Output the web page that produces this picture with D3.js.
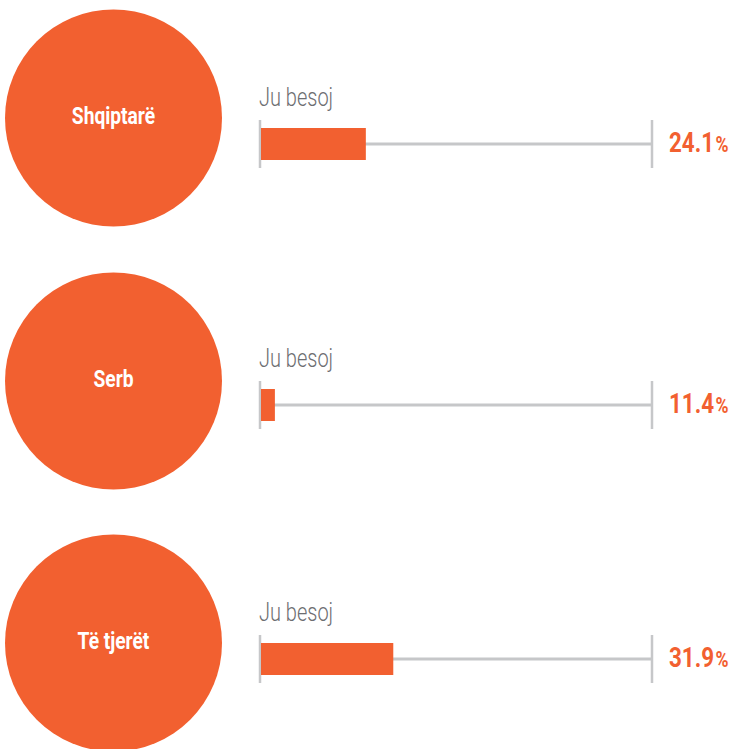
<!DOCTYPE html>
<html><head><meta charset="utf-8">
<script src="https://cdn.jsdelivr.net/npm/d3@7"></script>
<style>
html,body{margin:0;padding:0;background:#fff;}
svg{display:block;}
</style></head>
<body>
<script>
// Data
const categories = ["Shqiptarë", "Serb", "Të tjerët"];
const seriesLabel = "Ju besoj";
const values = [24.1, 11.4, 31.9];           // printed percentages
const barFill = [27.0, 3.8, 34.0];           // bar length (% of track)

const W = 734, H = 749;
const orange = "#f26030", grey = "#c6c7c9", textGrey = "#6d6e71";
const font = "Roboto, 'Liberation Sans', sans-serif";

const svg = d3.select("body").append("svg").attr("width", W).attr("height", H);

const yCircle = d3.scaleOrdinal().domain(categories).range([118, 381, 643]);
const yTrack = d3.scaleOrdinal().domain(categories).range([144, 405, 659]);
const x = d3.scaleLinear().domain([0, 100]).range([260, 652]);
const condense = 0.8; // horizontal squeeze to mimic a condensed face

// place a text at (tx,ty) squeezed horizontally; anchor 'start' or 'middle'
function squeeze(sel, tx, ty, anchor) {
  sel.each(function(d, i) {
    const t = d3.select(this);
    const w = this.getComputedTextLength() * condense;
    const X = typeof tx === "function" ? tx(d, i) : tx;
    const Y = typeof ty === "function" ? ty(d, i) : ty;
    const x0 = anchor === "middle" ? X - w / 2 : X;
    t.attr("transform", `translate(${x0},${Y}) scale(${condense},1)`);
    this.__w = w;
  });
}

// circles
svg.selectAll("circle.cat").data(categories).join("circle").attr("class", "cat")
  .attr("cx", 113.5).attr("cy", d => yCircle(d)).attr("r", 108.5).attr("fill", orange);
const catText = svg.selectAll("text.cat").data(categories).join("text").attr("class", "cat")
  .attr("fill", "#fff").attr("font-family", font).attr("font-weight", "bold")
  .attr("font-size", 24).text(d => d);
squeeze(catText, 113.5, d => yCircle(d) + 6, "middle");

const g = svg.selectAll("g.row").data(categories).join("g").attr("class", "row")
  .attr("transform", d => `translate(0,${yTrack(d)})`);

const ser = g.append("text").attr("fill", textGrey)
  .attr("font-family", font).attr("font-weight", 300).attr("font-size", 25).text(seriesLabel);
squeeze(ser, x(0) - 1, -38.5, "start");

g.append("line").attr("x1", x(0)).attr("x2", x(100)).attr("y1", 0).attr("y2", 0)
  .attr("stroke", grey).attr("stroke-width", 3);
g.append("line").attr("x1", x(0)).attr("x2", x(0)).attr("y1", -24).attr("y2", 24)
  .attr("stroke", grey).attr("stroke-width", 2.5);
g.append("line").attr("x1", x(100)).attr("x2", x(100)).attr("y1", -24).attr("y2", 24)
  .attr("stroke", grey).attr("stroke-width", 2.5);

g.append("rect").attr("x", x(0) + 1).attr("y", -16).attr("height", 32)
  .attr("width", (d, i) => x(barFill[i]) - x(0) - 1).attr("fill", orange);

const num = g.append("text").attr("fill", orange)
  .attr("font-family", font).attr("font-weight", "bold").attr("font-size", 28)
  .text((d, i) => values[i].toFixed(1));
squeeze(num, 669, 8, "start");
const numW = [];
num.each(function(d, i) { numW[i] = this.__w; });
const pct = g.append("text").attr("fill", orange)
  .attr("font-family", font).attr("font-weight", "bold").attr("font-size", 22).text("%");
squeeze(pct, (d, i) => 669 + numW[i] + 1.5, 8, "start");
</script>
</body></html>
